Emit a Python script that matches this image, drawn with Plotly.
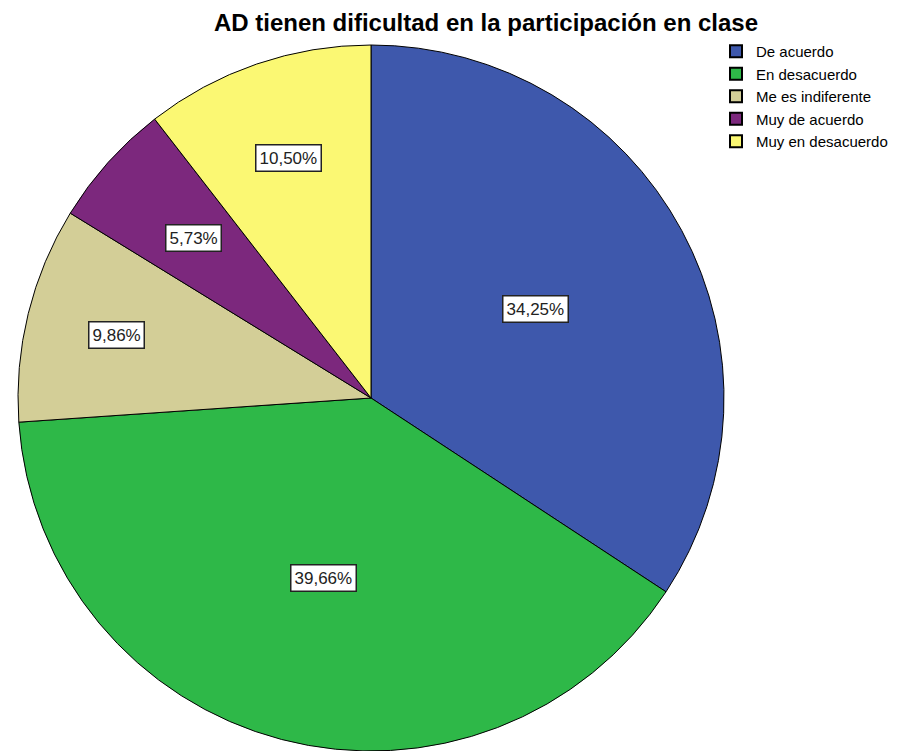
import math
import plotly.graph_objects as go

categories = ["De acuerdo", "En desacuerdo", "Me es indiferente", "Muy de acuerdo", "Muy en desacuerdo"]
values = [34.25, 39.66, 9.86, 5.73, 10.50]
label_texts = ["34,25%", "39,66%", "9,86%", "5,73%", "10,50%"]
colors = ["#3E58AC", "#2EB848", "#D3CE97", "#7C287D", "#FBF873"]
label_radius = [0.528, 0.527, 0.742, 0.677, 0.72]  # style: radial placement of labels

# page has an 8px body margin; figure is sized to fit the 911x751 window
OFF = 8
W, H = 911 - OFF, 751 - OFF
cx_px, cy_px, R_px = 371 - OFF, 398 - OFF, 353
dom_x = [(cx_px - 360) / W, (cx_px + 360) / W]
dom_y = [(H - cy_px - R_px) / H, (H - cy_px + R_px) / H]
dom_y = [max(0.0, dom_y[0]), min(1.0, dom_y[1])]

fig = go.Figure(go.Pie(
    labels=categories, values=values, sort=False, direction="clockwise", rotation=0,
    marker=dict(colors=colors, line=dict(color="black", width=1)),
    textinfo="none", hoverinfo="label+percent",
    domain=dict(x=dom_x, y=dom_y),
))

# label boxes placed at slice mid-angles derived from the data
cx = (dom_x[0] + dom_x[1]) / 2 * W
cy = (dom_y[0] + dom_y[1]) / 2 * H
R = min((dom_x[1] - dom_x[0]) * W, (dom_y[1] - dom_y[0]) * H) / 2
total = sum(values)
cum = 0
anns = []
for v, t, rf in zip(values, label_texts, label_radius):
    mid = (cum + v / 2) / total * 2 * math.pi
    cum += v
    px = cx + rf * R * math.sin(mid)
    py = cy + rf * R * math.cos(mid)
    anns.append(dict(x=px / W, y=py / H, xref="paper", yref="paper", text=t, showarrow=False,
                     xanchor="center", yanchor="middle",
                     font=dict(family="Liberation Sans, Arial", size=17, color="#222222"),
                     bgcolor="white", bordercolor="#222222", borderwidth=1.5, borderpad=3))

fig.update_layout(
    width=W, height=H, margin=dict(l=0, r=0, t=0, b=0),
    paper_bgcolor="white", plot_bgcolor="white",
    title=dict(text="<b>AD tienen dificultad en la participación en clase</b>", x=478 / W, xanchor="center",
               y=1 - 15 / H, yanchor="middle",
               font=dict(family="Liberation Sans, Arial", size=24, color="black")),
    legend=dict(x=708 / W, y=1 - 27 / H, xanchor="left", yanchor="top",
                font=dict(family="Liberation Sans, Arial", size=15, color="black"),
                bgcolor="rgba(0,0,0,0)", tracegroupgap=0, itemsizing="constant"),
    annotations=anns,
)

fig.write_html("out.html")
